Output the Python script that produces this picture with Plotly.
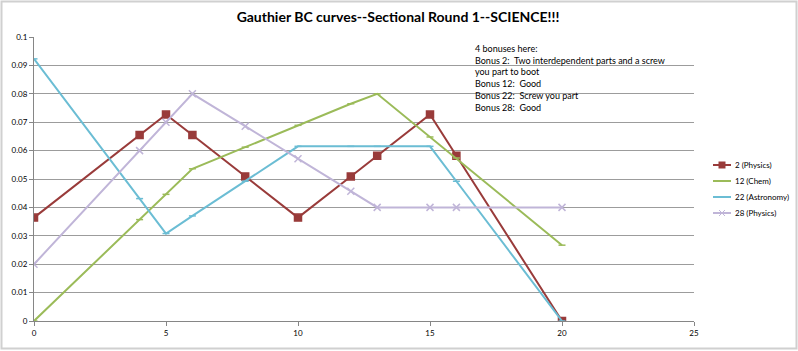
import plotly.graph_objects as go

x_vals = [0, 4, 5, 6, 8, 10, 12, 13, 15, 16, 20]
physics_2 = [0.0364, 0.0655, 0.0727, 0.0655, 0.0509, 0.0364, 0.0509, 0.0582, 0.0727, 0.0582, 0.0]
chem_12 = [0.0, 0.0357, 0.0446, 0.0536, 0.0612, 0.0689, 0.0765, 0.0800, 0.0648, 0.0574, 0.0267]
astro_22 = [0.0923, 0.0431, 0.0308, 0.0370, 0.0492, 0.0615, 0.0615, 0.0615, 0.0615, 0.0492, 0.0]
physics_28 = [0.0200, 0.0600, 0.0700, 0.0800, 0.0686, 0.0571, 0.0457, 0.0400, 0.0400, 0.0400, 0.0400]

series_names = ["2 (Physics)", "12 (Chem)", "22 (Astronomy)", "28 (Physics)"]
series_vals = [physics_2, chem_12, astro_22, physics_28]
colors = ["#993B3A", "#9BBB59", "#6BBDD4", "#C0B5D8"]
symbols = ["square", "line-ew", "line-ew", "x-thin"]
msizes = [7, 5, 5, 7]

title_text = "Gauthier BC curves--Sectional Round 1--SCIENCE!!!"
note_lines = [
    "4 bonuses here:",
    "Bonus 2:  Two interdependent parts and a screw",
    "you part to boot",
    "Bonus 12:  Good",
    "Bonus 22:  Screw you part",
    "Bonus 28:  Good",
]

W, H = 798, 351
L, R, T, B = 34, 104, 37, 30
pw, ph = W - L - R, H - T - B

def px2paper_x(p):
    return (p - L) / pw

def px2paper_y(p):
    return (H - B - p) / ph

fig = go.Figure()
for name, vals, c, s, ms in zip(series_names, series_vals, colors, symbols, msizes):
    fig.add_trace(go.Scatter(
        x=x_vals, y=vals, name=name, mode="lines+markers",
        line=dict(color=c, width=2),
        marker=dict(symbol=s, size=ms, color=c, line=dict(color=c, width=1.5)),
        showlegend=False,
    ))

# chart border
fig.add_shape(type="rect", xref="paper", yref="paper",
              x0=px2paper_x(1.5), x1=px2paper_x(796.5),
              y0=px2paper_y(348.5), y1=px2paper_y(1.5),
              line=dict(color="#D0D0D0", width=2), fillcolor="rgba(0,0,0,0)", layer="below")

# manual legend (compact spacing like the reference)
leg_y = [165, 181, 197, 213]
for name, c, s, yy in zip(series_names, colors, symbols, leg_y):
    fig.add_shape(type="line", xref="paper", yref="paper",
                  x0=px2paper_x(713), x1=px2paper_x(731),
                  y0=px2paper_y(yy), y1=px2paper_y(yy),
                  line=dict(color=c, width=2))
    if s == "square":
        fig.add_shape(type="rect", xref="paper", yref="paper",
                      x0=px2paper_x(718.5), x1=px2paper_x(725.5),
                      y0=px2paper_y(yy + 3.5), y1=px2paper_y(yy - 3.5),
                      line=dict(color=c, width=0), fillcolor=c)
    elif s == "x-thin":
        for dy in (-3, 3):
            fig.add_shape(type="line", xref="paper", yref="paper",
                          x0=px2paper_x(719), x1=px2paper_x(725),
                          y0=px2paper_y(yy - dy), y1=px2paper_y(yy + dy),
                          line=dict(color=c, width=1))
    fig.add_annotation(xref="paper", yref="paper", x=px2paper_x(733), y=px2paper_y(yy),
                       xanchor="left", yanchor="middle", showarrow=False, text=name,
                       font=dict(family="Lato, sans-serif", size=8, color="#000000"))

fig.add_annotation(xref="paper", yref="paper", x=px2paper_x(473), y=px2paper_y(41),
                   xanchor="left", yanchor="top", align="left", showarrow=False,
                   text="<br>".join(note_lines),
                   font=dict(family="Lato, Carlito, sans-serif", size=9, color="#000000"))

fig.update_layout(
    width=W, height=H,
    margin=dict(l=L, r=R, t=T, b=B, autoexpand=False),
    paper_bgcolor="white", plot_bgcolor="white",
    title=dict(text="<b>" + title_text + "</b>", x=398 / W, xanchor="center",
               y=1 - 17 / H, yanchor="middle",
               font=dict(family="Lato, Carlito, sans-serif", size=14, color="#000000")),
    showlegend=False,
)
fig.update_xaxes(range=[0, 25], dtick=5, tick0=0, showgrid=False, zeroline=False,
                 showline=True, linecolor="#868686", linewidth=1,
                 ticks="outside", ticklen=4, tickcolor="#868686",
                 tickfont=dict(family="Lato, sans-serif", size=8, color="#000000"))
fig.update_yaxes(range=[0, 0.1], dtick=0.01, tick0=0, showgrid=True, gridcolor="#9C9C9C",
                 gridwidth=1, zeroline=False, showline=True, linecolor="#868686", linewidth=1,
                 ticks="outside", ticklen=4, tickcolor="#868686",
                 tickfont=dict(family="Lato, sans-serif", size=8, color="#000000"))

fig.write_html("out.html")
